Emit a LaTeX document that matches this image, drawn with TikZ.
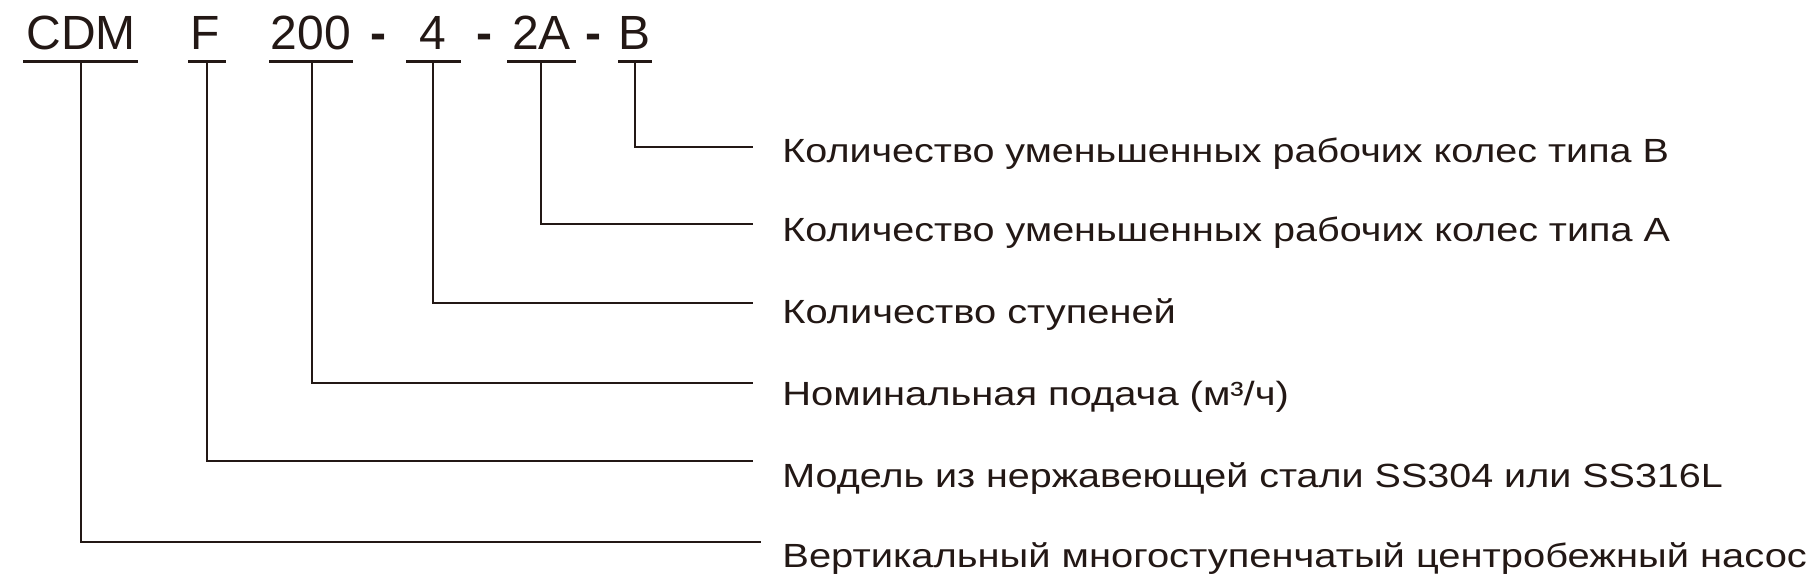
\documentclass[tikz,border=0pt]{standalone}
\usepackage{fontspec}
\setmainfont{Liberation Sans}
\usepackage{graphicx}
\definecolor{ink}{HTML}{231815}
\newcommand\fitrow[2]{\resizebox{#1pt}{\height}{#2}}
\begin{document}
\begin{tikzpicture}[x=0.5pt,y=-0.5pt,
  hdr/.style={font=\fontsize{24}{28}\selectfont, inner sep=0pt, text=ink, anchor=base},
  dashmark/.style={hdr, font=\fontsize{24}{28}\selectfont\bfseries},
  body/.style={font=\fontsize{16.76}{20}\selectfont, inner sep=0pt, text=ink, anchor=base west},
  uline/.style={draw=ink, line width=1.35pt},
  conn/.style={draw=ink, line width=0.9pt}]
\useasboundingbox (0,0) rectangle (1818,584);
% header code
\node[hdr] (cdm) at (81,49.3) {CDM};
\node[hdr] (f) at (205.5,49.3) {F};
\node[hdr] (q) at (311,49.3) {200};
\node[dashmark] (d1) at (378,49.3) {-};
\node[hdr] (n) at (433,49.3) {4};
\node[dashmark] (d2) at (484.5,49.3) {-};
\node[hdr] (a) at (541.5,49.3) {2A};
\node[dashmark] (d3) at (593,49.3) {-};
\node[hdr] (b) at (634.5,49.3) {B};
% underlines
\draw[uline] (23,61.7) -- (138,61.7);
\draw[uline] (188,61.7) -- (226,61.7);
\draw[uline] (269,61.7) -- (353,61.7);
\draw[uline] (406,61.7) -- (461,61.7);
\draw[uline] (507,61.7) -- (576,61.7);
\draw[uline] (618,61.7) -- (652,61.7);
% connector start points
\coordinate (ucdm) at (80.7,61.7);
\coordinate (uf) at (207,61.7);
\coordinate (uq) at (312,61.7);
\coordinate (un) at (433,61.7);
\coordinate (ua) at (541,61.7);
\coordinate (ub) at (635,61.7);
% connector end points
\coordinate (eb) at (753,146.7);
\coordinate (ea) at (753,224);
\coordinate (en) at (753,303.3);
\coordinate (eq) at (753,382.7);
\coordinate (ef) at (753,460.7);
\coordinate (ecdm) at (760.7,541.7);
% descriptions
\node[body] (tb) at (782,162) {\fitrow{443.25}{Количество уменьшенных рабочих колес типа B}};
\node[body] (ta) at (782,241) {\fitrow{443.75}{Количество уменьшенных рабочих колес типа A}};
\node[body] (tn) at (782,323) {\fitrow{196.75}{Количество ступеней}};
\node[body] (tq) at (782,405) {\fitrow{253.25}{Номинальная подача (м³/ч)}};
\node[body] (tf) at (782,487) {\fitrow{470.25}{Модель из нержавеющей стали SS304 или SS316L}};
\node[body] (tcdm) at (782,567) {\fitrow{512.25}{Вертикальный многоступенчатый центробежный насос}};
% connectors
\draw[conn] (ub) |- (eb);
\draw[conn] (ua) |- (ea);
\draw[conn] (un) |- (en);
\draw[conn] (uq) |- (eq);
\draw[conn] (uf) |- (ef);
\draw[conn] (ucdm) |- (ecdm);
\end{tikzpicture}
\end{document}
